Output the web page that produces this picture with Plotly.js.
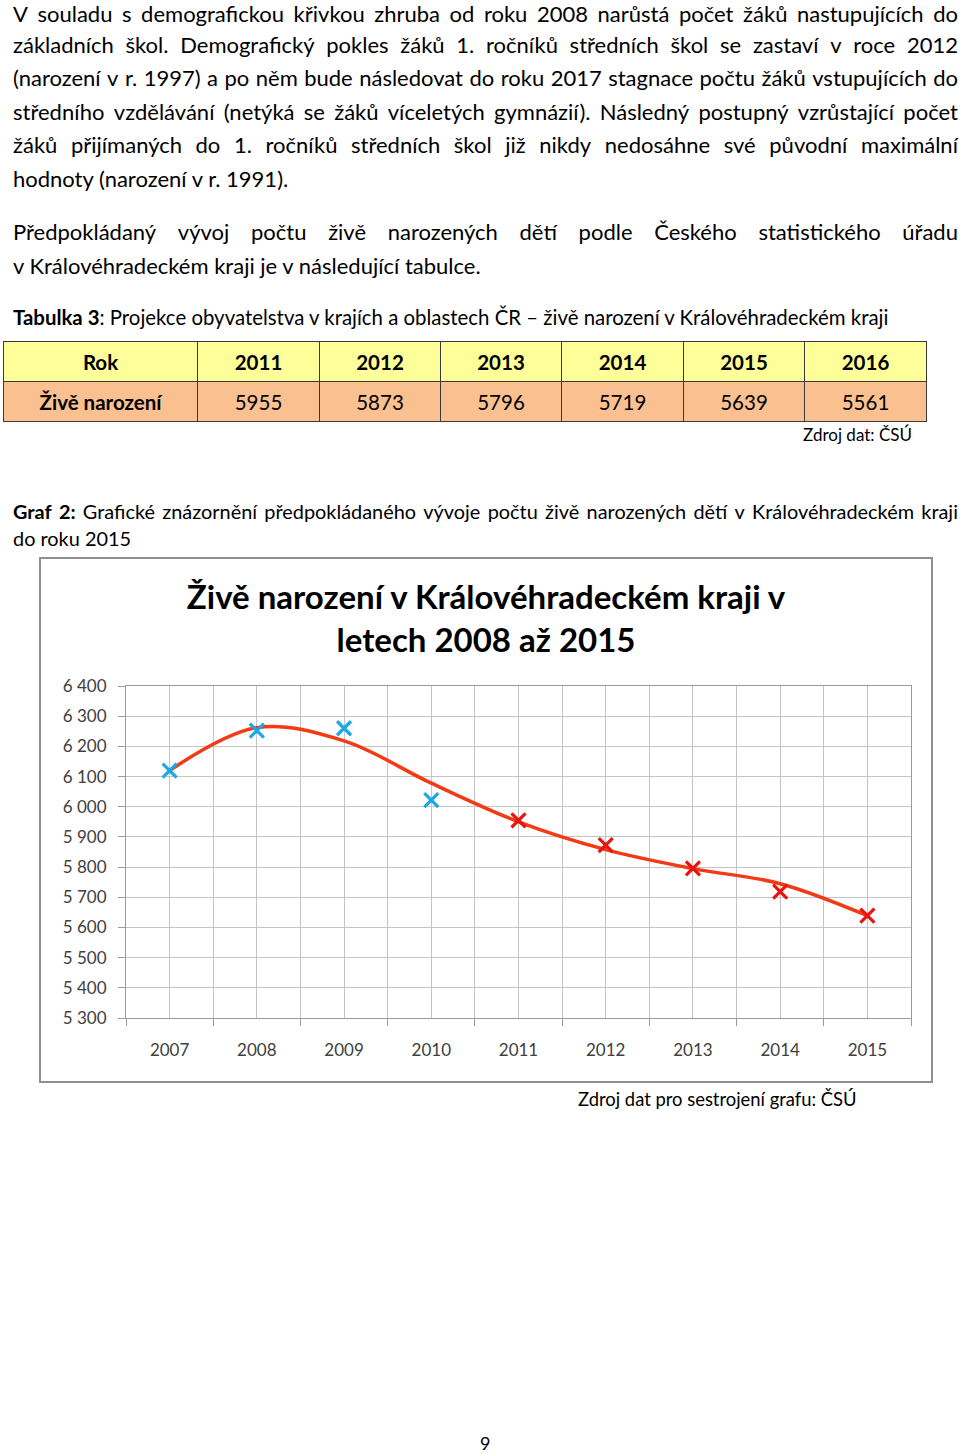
<!DOCTYPE html>
<html>
<head>
<meta charset="utf-8">
<script src="https://cdn.plot.ly/plotly-3.0.1.min.js"></script>
<style>
  html, body { margin:0; padding:0; background:#fff; }
  #page { position:relative; width:960px; height:1453px; overflow:hidden; font-family: Lato, "Open Sans", sans-serif; color:#000; }
  .ln { position:absolute; left:13px; white-space:nowrap; font-size:22px; line-height:30px; height:30px; }
  .jf { width:945px; display:flex; justify-content:space-between; }
  #tbl { position:absolute; left:3px; top:341px; border-collapse:collapse; table-layout:fixed; width:917px; font-size:20.5px; }
  #tbl td { border:1px solid #3a3a3a; height:39px; padding:0; text-align:center; }
  #tbl tr.h td { background:#FFFF99; font-weight:bold; }
  #tbl tr.v td { background:#FAC090; }
  #tbl tr.v td:first-child { font-weight:bold; }
  #box { position:absolute; left:39px; top:557px; width:890px; height:522px; border:2px solid #8f8f8f; }
  #chart { position:absolute; left:0; top:0; width:890px; height:522px; }
</style>
</head>
<body>
<div id="page">
  <div id="para"></div>
  <table id="tbl"></table>
  <div class="ln" style="left:auto; right:48px; top:420px; font-size:17px;">Zdroj dat: ČSÚ</div>
  <div id="box"><div id="chart"></div></div>
  <div class="ln" style="left:578px; top:1084px; font-size:18.4px;">Zdroj dat pro sestrojení grafu: ČSÚ</div>
  <div class="ln" style="left:480px; top:1428px; font-size:18px;">9</div>
</div>
<script>
// ---- data ----
const tableYears = [2011, 2012, 2013, 2014, 2015, 2016];
const tableBirths = [5955, 5873, 5796, 5719, 5639, 5561];

const axisYears = [2007, 2008, 2009, 2010, 2011, 2012, 2013, 2014, 2015];
const actualYears = [2007, 2008, 2009, 2010];
const actualBirths = [6120, 6252, 6260, 6022];
const projYears = [2011, 2012, 2013, 2014, 2015];
const projBirths = [5955, 5873, 5796, 5719, 5639];
const trendBirths = [6120, 6262, 6218, 6078, 5950, 5858, 5795, 5745, 5639];

// ---- text ----
const lines = [
  {t:"V souladu s demografickou křivkou zhruba od roku 2008 narůstá počet žáků nastupujících do", y:14, j:true},
  {t:"základních škol. Demografický pokles žáků 1. ročníků středních škol se zastaví v roce 2012", y:45, j:true},
  {t:"(narození v r. 1997) a po něm bude následovat do roku 2017 stagnace počtu žáků vstupujících do", y:78, j:true},
  {t:"středního vzdělávání (netýká se žáků víceletých gymnázií). Následný postupný vzrůstající počet", y:112, j:true},
  {t:"žáků přijímaných do 1. ročníků středních škol již nikdy nedosáhne své původní maximální", y:145, j:true},
  {t:"hodnoty (narození v r. 1991).", y:179, j:false},
  {t:"Předpokládaný vývoj počtu živě narozených dětí podle Českého statistického úřadu", y:232, j:true},
  {t:"v Královéhradeckém kraji je v následující tabulce.", y:266, j:false},
  {h:"<b>Tabulka 3</b>: Projekce obyvatelstva v krajích a oblastech ČR – živě narození v Královéhradeckém kraji", y:317, j:false, fs:20.4},
  {h:"<b>Graf</b> <b>2:</b> Grafické znázornění předpokládaného vývoje počtu živě narozených dětí v Královéhradeckém kraji", y:511, j:true, fs:19.9},
  {t:"do roku 2015", y:538, j:false, fs:19.9}
];
const para = document.getElementById('para');
lines.forEach(L => {
  const d = document.createElement('div');
  d.className = 'ln' + (L.j ? ' jf' : '');
  d.style.top = (L.y - 15) + 'px';
  if (L.fs) d.style.fontSize = L.fs + 'px';
  if (L.j) {
    const src = L.h ? L.h : L.t;
    src.split(' ').forEach(w => { const s = document.createElement('span'); s.innerHTML = w; d.appendChild(s); });
  } else if (L.h) d.innerHTML = L.h; else d.textContent = L.t;
  para.appendChild(d);
});

// ---- table ----
const colW = [193, 121, 120, 120, 121, 120, 121];
const tbl = document.getElementById('tbl');
const r1 = tbl.insertRow(); r1.className = 'h';
const r2 = tbl.insertRow(); r2.className = 'v';
['Rok'].concat(tableYears).forEach((v,i) => { const c = r1.insertCell(); c.textContent = v; c.style.width = colW[i] + 'px'; });
['Živě narození'].concat(tableBirths).forEach((v,i) => { const c = r2.insertCell(); c.textContent = v; c.style.width = colW[i] + 'px'; });

// ---- chart ----
const gridC = '#c4c4c4';
const traces = [
  {x: axisYears, y: trendBirths, type:'scatter', mode:'lines', line:{color:'#F23A14', width:3.5, shape:'spline', smoothing:1}, hoverinfo:'skip'},
  {x: actualYears, y: actualBirths, type:'scatter', mode:'markers', marker:{symbol:'x-thin', size:14, line:{color:'#1CA8E3', width:3.2}, color:'#1CA8E3'}},
  {x: projYears, y: projBirths, type:'scatter', mode:'markers', marker:{symbol:'x-thin', size:14, line:{color:'#E8140F', width:3.2}, color:'#E8140F'}}
];
const layout = {
  width:890, height:522, showlegend:false,
  paper_bgcolor:'#fff', plot_bgcolor:'#fff',
  separators:', ',
  margin:{l:85, r:20, t:127, b:63},
  font:{family:'Lato, "Open Sans", sans-serif', color:'#3c3c3c'},
  title:{text:'<b>Živě narození v Královéhradeckém kraji v<br>letech 2008 až 2015</b>', x:0.5, xref:'container', y:1-50/522, yref:'container', yanchor:'middle', xanchor:'center', font:{size:33, color:'#000', family:'Lato, sans-serif'}},
  xaxis:{range:[2006.5, 2015.5], tickvals:axisYears, ticktext:axisYears.map(String), ticks:'', showgrid:true, gridcolor:gridC, gridwidth:1,
         showline:true, linecolor:'#9a9a9a', linewidth:1, mirror:true, zeroline:false, ticklabelstandoff:17, tickfont:{size:17, color:'#404040'},
         minor:{tick0:2006.5, dtick:1, ticks:'outside', ticklen:7, tickcolor:'#9a9a9a', showgrid:true, gridcolor:gridC, gridwidth:1}},
  yaxis:{range:[5300, 6400], dtick:100, tick0:5300, separatethousands:true, ticks:'outside', ticklen:7, tickcolor:'#9a9a9a',
         showgrid:true, gridcolor:gridC, gridwidth:1, showline:true, linecolor:'#9a9a9a', linewidth:1, mirror:true, zeroline:false,
         ticklabelstandoff:8, tickfont:{size:17, color:'#404040'}}
};
Plotly.newPlot('chart', traces, layout, {displayModeBar:false, staticPlot:true});
</script>
</body>
</html>
